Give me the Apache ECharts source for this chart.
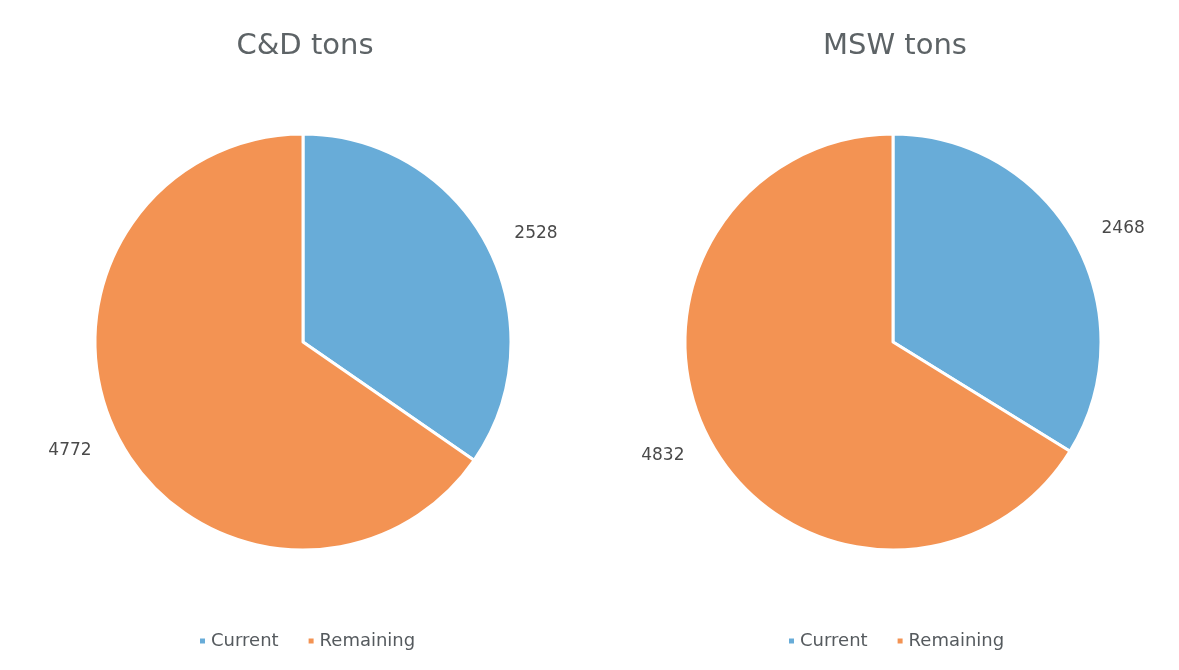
<!DOCTYPE html>
<html>
<head>
<meta charset="utf-8">
<script src="https://cdn.jsdelivr.net/npm/echarts@6/dist/echarts.min.js"></script>
<style>
    html, body { margin: 0; padding: 0; background: #fff; }
    #main { width: 1179px; height: 670px; }
</style>
</head>
<body>
<div id="main"></div>
<script>
    var categories = ['Current', 'Remaining'];
    var cdTons = [2528, 4772];
    var mswTons = [2468, 4832];
    var titles = ['C&D tons', 'MSW tons'];

    var colors = ['#68acd8', '#f39353'];
    var font = '"DejaVu Sans", sans-serif';

    function toData(values) {
        return categories.map(function (name, i) {
            return { name: name, value: values[i] };
        });
    }

    function pieSeries(values, cx) {
        return {
            type: 'pie',
            center: [cx, 342],
            radius: [0, 208],
            startAngle: 90,
            clockwise: true,
            silent: true,
            itemStyle: { borderColor: '#fff', borderWidth: 3 },
            label: {
                show: true,
                position: 'outside',
                formatter: '{c}',
                color: '#4a4a4a',
                fontSize: 17,
                fontFamily: font
            },
            labelLine: { show: false, length: 25, length2: 0 },
            data: toData(values)
        };
    }

    function titleAt(text, x) {
        return {
            text: text, left: x, top: 27, textAlign: 'center',
            textStyle: { color: '#5d6366', fontSize: 29, fontWeight: 'normal', fontFamily: font }
        };
    }

    function legendAt(x) {
        return {
            data: categories, left: x, top: 627,
            icon: 'rect', itemWidth: 7, itemHeight: 7, itemGap: 28,
            selectedMode: false,
            textStyle: { color: '#555a5e', fontSize: 18, fontFamily: font }
        };
    }

    var myChart = echarts.init(document.getElementById('main'));
    var option = {
        color: colors,
        animation: false,
        title: [titleAt(titles[0], 300), titleAt(titles[1], 890)],
        legend: [legendAt(193), legendAt(782)],
        series: [
            pieSeries(cdTons, 303),
            pieSeries(mswTons, 893)
        ]
    };
    option && myChart.setOption(option);
</script>
</body>
</html>
